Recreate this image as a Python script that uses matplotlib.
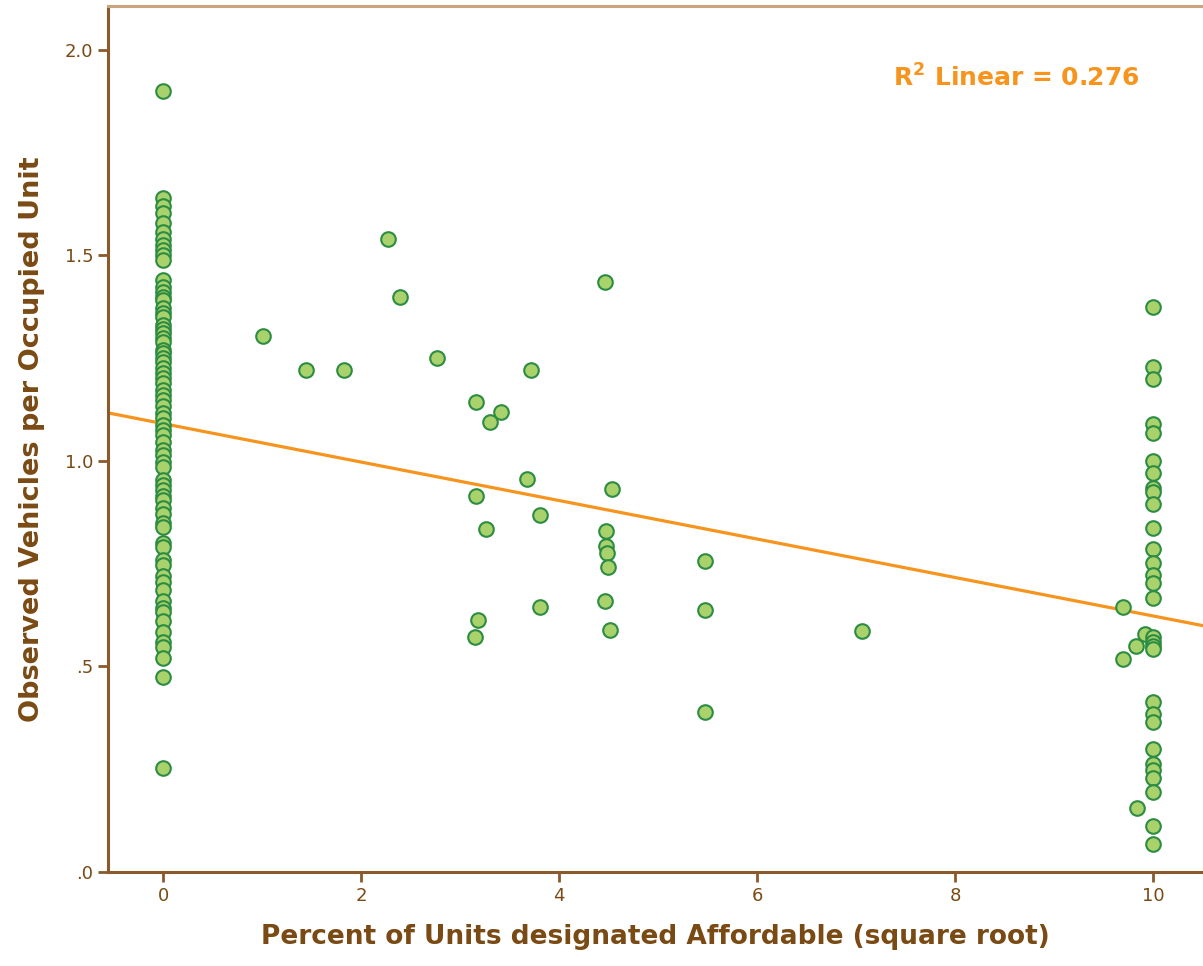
import numpy as np
import matplotlib.pyplot as plt

# sites with no affordable units (x = 0)
y_zero = [1.899, 1.64, 1.62, 1.603, 1.579, 1.557, 1.54, 1.526, 1.514, 1.50, 1.489,
          1.44, 1.423, 1.411, 1.40, 1.392, 1.372, 1.36, 1.35, 1.331, 1.32, 1.312,
          1.30, 1.29, 1.27, 1.262, 1.25, 1.241, 1.226, 1.215, 1.202, 1.19, 1.173,
          1.16, 1.148, 1.135, 1.117, 1.105, 1.088, 1.075, 1.063, 1.046, 1.027,
          1.015, 0.998, 0.985, 0.954, 0.942, 0.929, 0.915, 0.905, 0.886, 0.87,
          0.849, 0.84, 0.80, 0.791, 0.76, 0.747, 0.72, 0.706, 0.686, 0.66, 0.642,
          0.633, 0.61, 0.584, 0.56, 0.547, 0.52, 0.474, 0.253]

# mixed sites
x_mid = [1.01, 1.444, 1.828, 2.27, 2.394, 2.768, 3.16, 3.30, 3.414, 3.16, 3.26,
         3.18, 3.15, 3.717, 3.677, 3.81, 3.81, 4.465, 4.535, 4.475, 4.475, 4.485,
         4.495, 4.465, 4.515, 5.475, 5.475, 5.475, 7.06,
         9.70, 9.92, 9.83, 9.70, 9.84]
y_mid = [1.304, 1.221, 1.221, 1.540, 1.399, 1.251, 1.144, 1.095, 1.119, 0.915, 0.835,
         0.613, 0.572, 1.221, 0.956, 0.869, 0.645, 1.436, 0.932, 0.830, 0.793, 0.776,
         0.742, 0.659, 0.589, 0.757, 0.637, 0.389, 0.586,
         0.645, 0.579, 0.550, 0.518, 0.156]

# fully affordable sites (x = 10)
y_ten = [1.375, 1.229, 1.20, 1.09, 1.068, 1.0, 0.971, 0.934, 0.925, 0.895, 0.837,
         0.786, 0.752, 0.723, 0.703, 0.667, 0.572, 0.56, 0.55, 0.542, 0.414, 0.384,
         0.365, 0.30, 0.263, 0.248, 0.228, 0.195, 0.112, 0.068]

fit_intercept = 1.091
fit_slope = -0.0468
r2_text = 'R$^\\mathbf{2}$ Linear = 0.276'

x = np.concatenate([np.zeros(len(y_zero)), x_mid, np.full(len(y_ten), 10.0)])
y = np.concatenate([y_zero, y_mid, y_ten])

brown = '#8b5a2b'
label_brown = '#7a4a14'
orange = '#f7941d'

fig = plt.figure(figsize=(12.03, 9.66), dpi=100)
ax = fig.add_axes([0.0898, 0.0973, 0.9102, 0.8965])

xmin, xmax = -0.556, 10.505
ax.scatter(x, y, s=110, facecolor='#a9d26c', edgecolor='#2b8c42', linewidth=1.5, zorder=3)

xs = np.array([xmin, xmax])
ax.plot(xs, fit_intercept + fit_slope * xs, color=orange, linewidth=2.3, zorder=2)

ax.text(0.717, 0.917, r2_text, transform=ax.transAxes, color=orange,
        fontsize=18, fontweight='bold', va='center', ha='left')

ax.set_xlim(xmin, xmax)
ax.set_ylim(0, 2.107)
ax.set_xticks([0, 2, 4, 6, 8, 10])
ax.set_yticks([0, 0.5, 1.0, 1.5, 2.0])
ax.set_yticklabels(['.0', '.5', '1.0', '1.5', '2.0'])

ax.tick_params(direction='out', length=7, width=2, color=brown, labelcolor=label_brown,
               labelsize=13)
for side in ['left', 'bottom']:
    ax.spines[side].set_color(brown)
    ax.spines[side].set_linewidth(2.2)
ax.spines['top'].set_color('#c9a47c')
ax.spines['top'].set_linewidth(2.2)
ax.spines['right'].set_visible(False)

ax.set_xlabel('Percent of Units designated Affordable (square root)', fontsize=19,
              fontweight='bold', color=label_brown, labelpad=14)
ax.set_ylabel('Observed Vehicles per Occupied Unit', fontsize=19.5,
              fontweight='bold', color=label_brown, labelpad=14)

fig.savefig('out.png', dpi=100)
